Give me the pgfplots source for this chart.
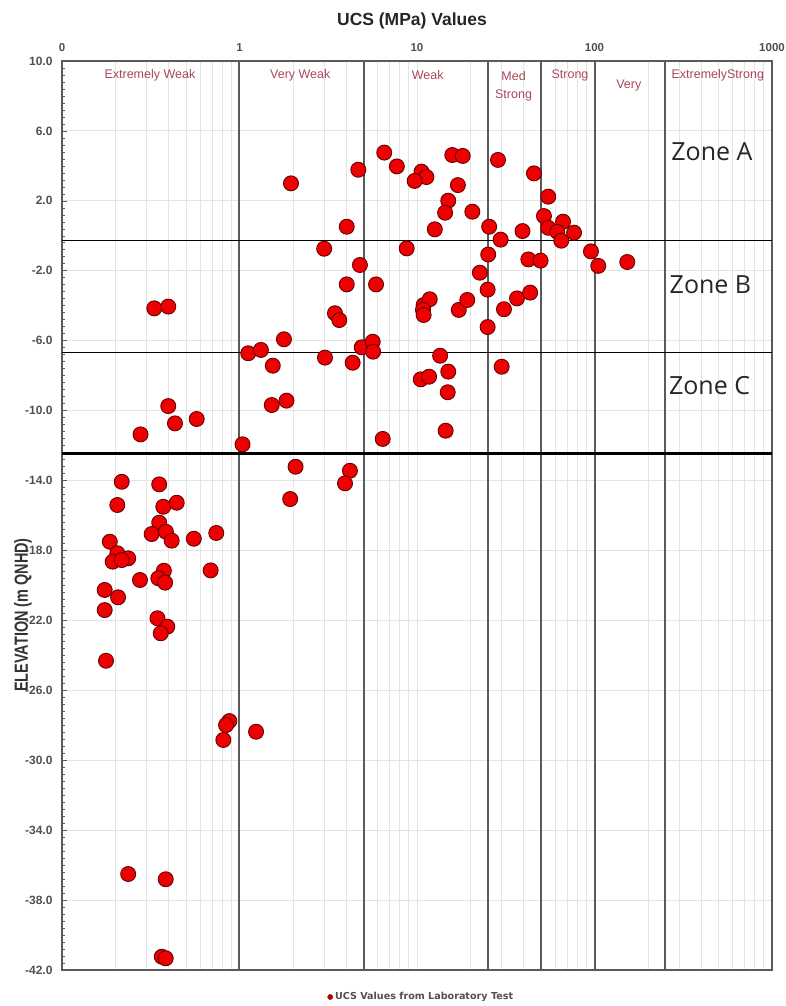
\documentclass[border=0pt]{standalone}
\usepackage{fontspec}
\setmainfont{Liberation Sans}
\newfontfamily\zonefont{Open Sans}
\newfontfamily\legfont{DejaVu Sans}
\newfontfamily\ylabfont[FakeStretch=0.76]{Liberation Sans}
\usepackage{pgfplots}
\pgfplotsset{compat=1.18}
\definecolor{catred}{RGB}{168,72,88}
\definecolor{ptred}{RGB}{238,0,0}
\definecolor{ptedge}{RGB}{105,0,0}
\definecolor{framec}{RGB}{90,90,90}
\definecolor{gridc}{RGB}{228,228,228}
\definecolor{ticklab}{RGB}{80,80,80}
\begin{document}
\begin{tikzpicture}
\begin{axis}[
  scale only axis, width=710pt, height=909pt,
  xmode=log, xmin=0.1, xmax=1000,
  ymin=-42, ymax=10,
  xtick={0.1,1,10,100,1000},
  xticklabels={0,1,10,100,1000},
  xticklabel pos=top,
  xtick style={draw=none},
  xticklabel style={font=\bfseries\fontsize{11.5}{13}\selectfont, text=ticklab, anchor=center, yshift=13pt},
  ytick={-42,-38,...,10},
  minor y tick num=9,
  ytick pos=left,
  ytick style={framec, line width=0.6pt},
  major tick length=5pt, minor tick length=3pt,
  yticklabel style={font=\bfseries\fontsize{12}{14}\selectfont, text=ticklab, xshift=-6pt,
    /pgf/number format/.cd, fixed, fixed zerofill, precision=1, assume math mode=true},
  xmajorgrids=true, xminorgrids=true, ymajorgrids=true,
  major grid style={gridc, line width=0.9pt},
  minor grid style={gridc, line width=0.8pt},
  axis line style={framec, line width=2pt},
  clip=false,
  legend style={at={(axis description cs:0.506,-0.0297)}, anchor=center, draw=none, fill=none,
    font=\legfont\bfseries\fontsize{9.6}{11}\selectfont, text=ticklab, inner sep=0pt},
]
% strength class boundaries
\draw[framec, line width=2pt] (axis cs:1,-42) -- (axis cs:1,10);
\draw[framec, line width=2pt] (axis cs:5,-42) -- (axis cs:5,10);
\draw[framec, line width=2pt] (axis cs:25,-42) -- (axis cs:25,10);
\draw[framec, line width=2pt] (axis cs:50,-42) -- (axis cs:50,10);
\draw[framec, line width=2pt] (axis cs:100,-42) -- (axis cs:100,10);
\draw[framec, line width=2pt] (axis cs:250,-42) -- (axis cs:250,10);
% zone boundaries
\draw[black, line width=1pt] (axis cs:0.1,-0.25) -- (axis cs:1000,-0.25);
\draw[black, line width=1pt] (axis cs:0.1,-6.65) -- (axis cs:1000,-6.65);
\draw[black, line width=2.8pt] (axis cs:0.1,-12.45) -- (axis cs:1000,-12.45);
% class labels
\begin{scope}[every node/.style={font=\fontsize{12.5}{18}\selectfont, text=catred, align=center}]
\node at (axis cs:0.313,9.2) {Extremely Weak};
\node at (axis cs:2.2,9.2) {Very Weak};
\node at (axis cs:11.5,9.2) {Weak};
\node at (axis cs:35,8.55) {Med\\Strong};
\node at (axis cs:72.8,9.2) {Strong};
\node at (axis cs:156,8.57) {Very};
\node at (axis cs:495,9.2) {ExtremelyStrong};
\end{scope}
\begin{scope}[every node/.style={font=\zonefont\fontsize{25}{28}\selectfont, text=black!85}]
\node at (axis cs:459,4.8) {Zone A};
\node at (axis cs:450,-2.8) {Zone B};
\node at (axis cs:445,-8.54) {Zone C};
\end{scope}
\addplot[only marks, mark=*, mark size=7.5pt,
  mark options={fill=ptred, draw=ptedge, line width=0.9pt},
  legend image code/.code={\fill[ptred!75!black] (0pt,0pt) circle (2.6pt);}]
table {
x y
1.95 3.0
4.67 3.78
6.54 4.76
7.7 3.97
15.8 4.62
18.1 4.57
28.6 4.34
10.6 3.67
11.3 3.36
9.7 3.14
45.6 3.57
17.0 2.90
54.9 2.24
15.0 2.01
14.4 1.32
20.5 1.38
51.9 1.13
66.5 0.81
54.9 0.46
61.7 0.23
76.7 0.18
12.6 0.37
25.5 0.52
39.3 0.27
4.02 0.52
65.0 -0.28
29.6 -0.22
3.0 -0.74
8.75 -0.72
95.5 -0.89
25.2 -1.07
4.77 -1.67
42.4 -1.35
49.7 -1.42
105 -1.72
153 -1.50
22.6 -2.11
4.02 -2.78
5.88 -2.78
25.0 -3.08
0.331 -4.15
0.397 -4.05
3.45 -4.43
3.65 -4.82
10.9 -3.96
11.8 -3.63
10.8 -4.24
10.9 -4.53
17.2 -4.24
19.2 -3.67
30.9 -4.20
36.6 -3.58
43.4 -3.25
25.0 -5.22
1.78 -5.92
4.88 -6.38
5.63 -6.06
5.66 -6.63
1.12 -6.72
1.32 -6.53
1.54 -7.43
3.03 -6.97
4.34 -7.26
13.5 -6.86
15.0 -7.77
10.5 -8.21
11.7 -8.06
14.9 -8.95
30.0 -7.49
0.397 -9.74
1.52 -9.68
1.84 -9.43
0.433 -10.73
0.574 -10.48
0.277 -11.36
1.04 -11.93
6.41 -11.62
14.5 -11.15
2.07 -13.21
4.19 -13.44
3.93 -14.16
1.93 -15.06
0.217 -14.07
0.353 -14.22
0.205 -15.40
0.372 -15.50
0.443 -15.27
0.353 -16.41
0.320 -17.06
0.385 -16.93
0.415 -17.44
0.553 -17.33
0.74 -17.00
0.186 -17.50
0.205 -18.16
0.236 -18.45
0.193 -18.64
0.217 -18.55
0.275 -19.69
0.375 -19.16
0.349 -19.59
0.381 -19.84
0.688 -19.14
0.174 -20.26
0.207 -20.68
0.174 -21.41
0.345 -21.88
0.392 -22.36
0.360 -22.74
0.177 -24.31
0.877 -27.76
0.84 -27.99
1.24 -28.37
0.811 -28.84
0.236 -36.51
0.384 -36.81
0.365 -41.24
0.384 -41.33
};
\addlegendentry{UCS Values from Laboratory Test}
\end{axis}
\node[font=\bfseries\fontsize{17.5}{20}\selectfont, text=black!85] at (350pt,949pt) {UCS (MPa) Values};
\node[font=\ylabfont\bfseries\fontsize{19}{22}\selectfont, text=black!80, rotate=90] at (-39pt,355pt) {ELEVATION (m QNHD)};
\pgfresetboundingbox
\path[use as bounding box] (-62pt,-36pt) rectangle (723pt,970pt);
\end{tikzpicture}
\end{document}
